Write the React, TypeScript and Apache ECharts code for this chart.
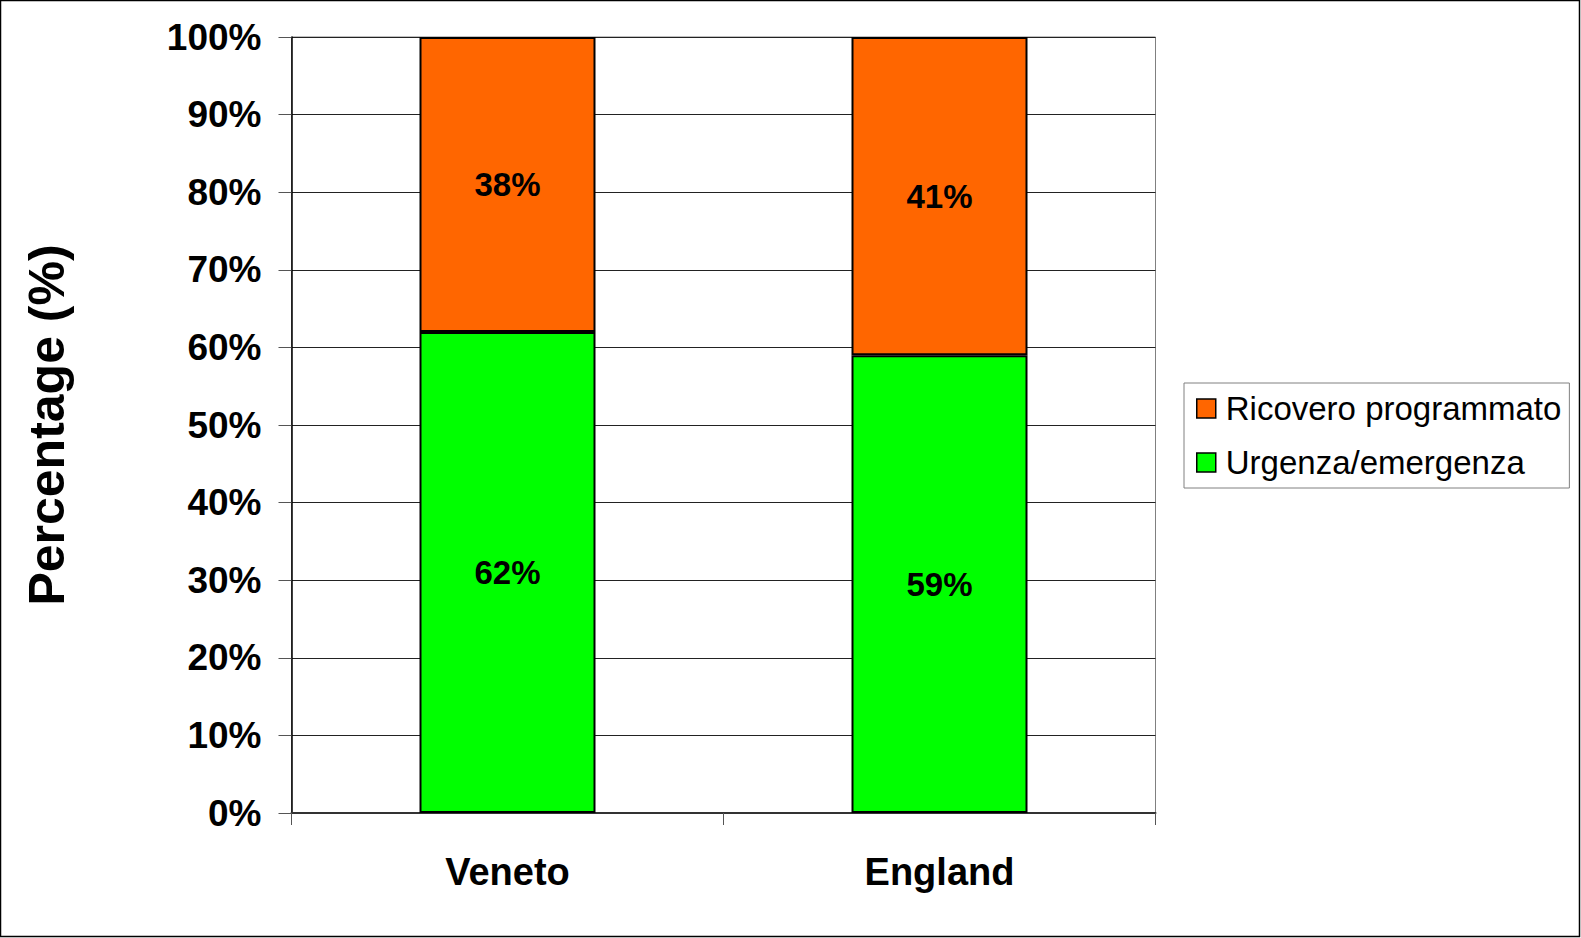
import React, { useEffect, useRef } from "react";
import * as echarts from "echarts";

// Admission type share by region (percent of admissions)
const categories = ["Veneto", "England"];
const urgenzaValues = [62, 59];
const programmatoValues = [38, 41];
const yTicks = { min: 0, max: 100, interval: 10 };

const FONT = '"Liberation Sans", Arial, sans-serif';

export default function App() {
  const ref = useRef<HTMLDivElement>(null);

  useEffect(() => {
    if (!ref.current) return;
    const chart = echarts.init(ref.current, null, { renderer: "svg" });

    const barBase = {
      type: "bar" as const,
      stack: "total",
      barWidth: 176,
      label: {
        show: true,
        position: "inside" as const,
        formatter: "{c}%",
        fontFamily: FONT,
        fontSize: 33,
        fontWeight: "bold" as const,
        color: "#000",
      },
    };

    chart.setOption({
      animation: false,
      backgroundColor: "#fff",
      textStyle: { fontFamily: FONT },
      grid: {
        left: 291.5,
        right: 425.5,
        top: 37,
        bottom: 125,
        show: true,
        borderColor: "#808080",
        borderWidth: 1,
        backgroundColor: "transparent",
      },
      legend: {
        orient: "vertical",
        left: 1184,
        top: 383,
        padding: [9, 8, 9, 12],
        borderColor: "#808080",
        borderWidth: 1,
        icon: "rect",
        itemWidth: 19,
        itemHeight: 19,
        itemGap: 21,
        data: ["Ricovero programmato", "Urgenza/emergenza"],
        itemStyle: { borderColor: "#000", borderWidth: 1.5 },
        textStyle: {
          fontFamily: FONT,
          fontSize: 33,
          color: "#000",
          lineHeight: 33,
          padding: [0, 0, 0, 5],
        },
      },
      xAxis: {
        type: "category",
        data: categories,
        axisLine: { show: true, lineStyle: { color: "#333", width: 2 } },
        axisTick: { show: true, length: 12, lineStyle: { color: "#555", width: 1 } },
        axisLabel: {
          margin: 40,
          fontFamily: FONT,
          fontSize: 38,
          fontWeight: "bold",
          color: "#000",
        },
      },
      yAxis: {
        type: "value",
        min: yTicks.min,
        max: yTicks.max,
        interval: yTicks.interval,
        name: "Percentage (%)",
        nameLocation: "middle",
        nameRotate: 90,
        nameGap: 220,
        nameTextStyle: {
          fontFamily: FONT,
          fontSize: 50,
          fontWeight: "bold",
          color: "#000",
        },
        axisLine: { show: true, lineStyle: { color: "#000", width: 1.5 } },
        axisTick: { show: true, length: 13, lineStyle: { color: "#555", width: 1 } },
        splitLine: { show: true, lineStyle: { color: "#222", width: 1 } },
        axisLabel: {
          formatter: "{value}%",
          margin: 30,
          fontFamily: FONT,
          fontSize: 37,
          fontWeight: "bold",
          color: "#000",
        },
      },
      series: [
        {
          ...barBase,
          name: "Urgenza/emergenza",
          data: urgenzaValues,
          itemStyle: { color: "#00FF00", borderColor: "#000", borderWidth: 2 },
        },
        {
          ...barBase,
          name: "Ricovero programmato",
          data: programmatoValues,
          itemStyle: { color: "#FF6600", borderColor: "#000", borderWidth: 2 },
        },
      ],
      graphic: [
        {
          type: "rect",
          shape: { x: 0.5, y: 0.5, width: 1579, height: 936 },
          style: { fill: "none", stroke: "#000", lineWidth: 1.5 },
          silent: true,
        },
      ],
    });

    return () => chart.dispose();
  }, []);

  return (
    <div
      ref={ref}
      style={{ position: "fixed", left: 0, top: 0, width: 1581, height: 938 }}
    />
  );
}
